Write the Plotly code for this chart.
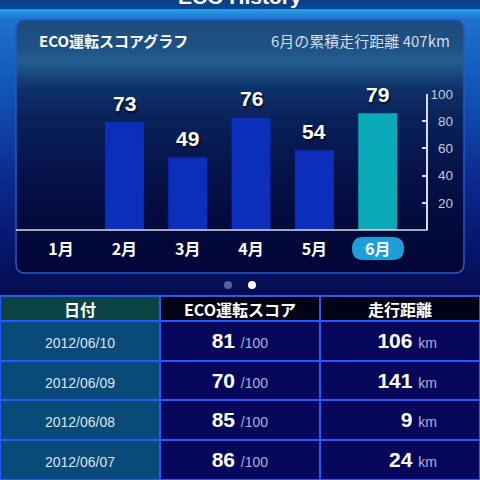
import plotly.graph_objects as go

# ---------------- data ----------------
months = ["1月", "2月", "3月", "4月", "5月", "6月"]
scores = [None, 73, 49, 76, 54, 79]
bar_colors = ["#0b2fbb", "#0b2fbb", "#0b2fbb", "#0b2fbb", "#0b2fbb", "#0aaab8"]
axis_ticks = [20, 40, 60, 80, 100]
axis_tick_text = ["\u200720", "\u200740", "\u200760", "\u200780", "100"]
selected_month = "6月"
chart_title = "ECO運転スコアグラフ"
monthly_total = "6月の累積走行距離 407km"

table_headers = ["日付", "ECO運転スコア", "走行距離"]
dates = ["2012/06/10", "2012/06/09", "2012/06/08", "2012/06/07"]
daily_scores = [81, 70, 85, 86]
daily_km = [106, 141, 9, 24]

W = H = 480
JP = "Noto Sans CJK JP"
LAT = "Liberation Sans, Arial, sans-serif"


def px(x):
    return x / W


def py(y):
    return 1 - y / H


def hex2rgb(h):
    h = h.lstrip("#")
    return tuple(int(h[i:i + 2], 16) for i in (0, 2, 4))


def interp(stops, y):
    for (y0, c0), (y1, c1) in zip(stops, stops[1:]):
        if y0 <= y <= y1:
            t = 0 if y1 == y0 else (y - y0) / (y1 - y0)
            a, b = hex2rgb(c0), hex2rgb(c1)
            return "rgb(%d,%d,%d)" % tuple(round(a[i] + (b[i] - a[i]) * t) for i in range(3))
    return stops[-1][1]


shapes = []


def gradient(x0, x1, y0, y1, stops, step=2, radius=0):
    y = y0
    while y < y1:
        ye = min(y + step, y1)
        ym = (y + ye) / 2
        inset = 0
        if radius:
            d = None
            if ym - y0 < radius:
                d = radius - (ym - y0)
            elif y1 - ym < radius:
                d = radius - (y1 - ym)
            if d is not None:
                inset = radius - (radius ** 2 - d ** 2) ** 0.5
        shapes.append(dict(type="rect", xref="paper", yref="paper", layer="below",
                           x0=px(x0 + inset), x1=px(x1 - inset), y0=py(ye + 0.3), y1=py(y),
                           fillcolor=interp(stops, ym), line=dict(width=0)))
        y = ye


# outer background
gradient(0, 480, 0, 300, [(0, "#0a3c84"), (8, "#0c4690"), (9, "#2ea2ea"), (12, "#2590e0"),
                          (20, "#1b72cc"), (90, "#1255b8"), (170, "#0c2e92"),
                          (240, "#071770"), (300, "#040a4c")], step=3)
# panel
gradient(16, 464, 20, 273, [(20, "#1d4b7c"), (48, "#1d5284"), (60, "#245e8e"), (70, "#1a5083"),
                            (88, "#0e3169"), (120, "#09215a"), (170, "#05134a"),
                            (230, "#02083a"), (273, "#020637")], step=2, radius=9)


def rounded(x0, y0, x1, y1, r):
    X0, X1 = px(x0), px(x1)
    Y0, Y1 = py(y0), py(y1)
    rx, ry = r / W, r / H
    return (f"M {X0 + rx},{Y0} L {X1 - rx},{Y0} Q {X1},{Y0} {X1},{Y0 - ry} "
            f"L {X1},{Y1 + ry} Q {X1},{Y1} {X1 - rx},{Y1} L {X0 + rx},{Y1} "
            f"Q {X0},{Y1} {X0},{Y1 + ry} L {X0},{Y0 - ry} Q {X0},{Y0} {X0 + rx},{Y0} Z")


shapes.append(dict(type="path", xref="paper", yref="paper", layer="below",
                   path=rounded(16, 20, 464, 273, 9), line=dict(color="#2a56cc", width=1.5)))
# highlighted month pill
shapes.append(dict(type="path", xref="paper", yref="paper", layer="below",
                   path=rounded(352, 237, 404, 260, 11.5), fillcolor="#1c9ed8",
                   line=dict(width=0)))
# baseline of chart
shapes.append(dict(type="line", xref="paper", yref="paper", layer="above",
                   x0=px(16), x1=px(427.5), y0=py(230), y1=py(230),
                   line=dict(color="#d8dce8", width=1.5)))
# pager dots
for cx, col in [(228, "#5e6090"), (252, "#ffffff")]:
    shapes.append(dict(type="circle", xref="paper", yref="paper", layer="above",
                       x0=px(cx - 4), x1=px(cx + 4), y0=py(289), y1=py(281),
                       fillcolor=col, line=dict(width=0)))

fig = go.Figure()
fig.add_trace(go.Bar(x=months, y=scores, marker=dict(color=bar_colors, line=dict(width=0)),
                     hoverinfo="skip", showlegend=False))
fig.add_trace(go.Scatter(x=months, y=scores, yaxis="y2", mode="markers",
                         marker=dict(opacity=0), hoverinfo="skip", showlegend=False))

annotations = []
for m, s in zip(months, scores):
    if s is None:
        continue
    annotations.append(dict(x=m, y=s, xref="x", yref="y", yshift=19, showarrow=False,
                            yanchor="middle",
                            text=f"<b>{s}</b>",
                            font=dict(family=LAT, size=21, color="#ffffff",
                                      shadow="1px 2px 2px rgba(0,0,0,0.75)")))

annotations += [
    dict(x=0.5, y=py(-3), xref="paper", yref="paper", showarrow=False, yanchor="middle",
         text="<b>ECO History</b>", font=dict(family=LAT, size=21, color="#ffffff")),
    dict(x=px(37), y=py(40), xref="paper", yref="paper", xanchor="left", yanchor="middle",
         showarrow=False, text=f"<b>{chart_title}</b>",
         font=dict(family=JP, size=15, color="#ffffff")),
    dict(x=px(452), y=py(40), xref="paper", yref="paper", xanchor="right", yanchor="middle",
         showarrow=False, text=monthly_total, font=dict(family=JP, size=15, color="#d4dbe6")),
]

tick_text = [f"<b>{m}</b>" for m in months]

fig.update_layout(
    width=W, height=H, margin=dict(l=0, r=0, t=0, b=0, pad=0, autoexpand=False),
    paper_bgcolor="#040a4c", plot_bgcolor="rgba(0,0,0,0)",
    bargap=0.385, showlegend=False,
    shapes=shapes, annotations=annotations,
    xaxis=dict(type="category", categoryorder="array", categoryarray=months,
               range=[-0.5, 5.5], domain=[px(29.4), px(409.4)],
               tickvals=months, ticktext=tick_text, ticks="", ticklabelstandoff=8,
               tickfont=dict(family=JP, size=16, color="#ffffff"), automargin=False,
               showline=False, showgrid=False, zeroline=False, fixedrange=True),
    yaxis=dict(range=[0, 92], domain=[py(230), py(94)], visible=False, fixedrange=True,
               automargin=False),
    yaxis2=dict(range=[0, 100], overlaying="y", side="right", anchor="free", position=px(427),
                tickvals=axis_ticks, ticktext=axis_tick_text, ticks="inside", ticklen=4,
                tickwidth=1.5, tickcolor="#d8dce8", showline=True, linecolor="#d8dce8",
                linewidth=1.5, showgrid=False, zeroline=False, ticklabelstandoff=0,
                automargin=False,
                tickfont=dict(family=LAT, size=13.5, color="#c4cad8"), fixedrange=True),
)

# a trailing <br> marks the text as user-broken, so the table does not re-wrap it on spaces
small = '<span style="font-size:14px;color:#a9b1dc">{}</span>'
# full-size non-breaking spaces around the date keep its baseline level with the big numbers
date_cells = ['\u00a0<span style="font-size:14px">' + d + "</span>\u00a0<br>" for d in dates]
score_cells = [f"<b>{s}</b> " + small.format("/100") + "<br>" for s in daily_scores]
pad = "\u00a0" * 6
km_cells = [f"<b>{k}</b> " + small.format("km") + pad + "<br>" for k in daily_km]

fig.add_trace(go.Table(
    domain=dict(x=[0, 1], y=[0, py(296)]),
    columnwidth=[160, 160, 160],
    header=dict(values=table_headers,
                fill_color=["#0c4444", "#020216", "#020216"],
                line=dict(color="#2a58ff", width=2),
                font=dict(family=JP, size=16, color="#ffffff", weight="bold"),
                align="center", height=25),
    cells=dict(values=[date_cells, score_cells, km_cells],
               fill_color=[["#0a4a78"] * len(dates), ["#06065a"] * len(dates), ["#06065a"] * len(dates)],
               line=dict(color="#2a58ff", width=2),
               font=dict(family=LAT, size=21, color=["#dce4ee", "#ffffff", "#ffffff"]),
               align=["center", "center", "right"], height=39.7),
))

fig.write_html("out.html", config={"displayModeBar": False},
               post_script="document.body.style.margin='0px';")
